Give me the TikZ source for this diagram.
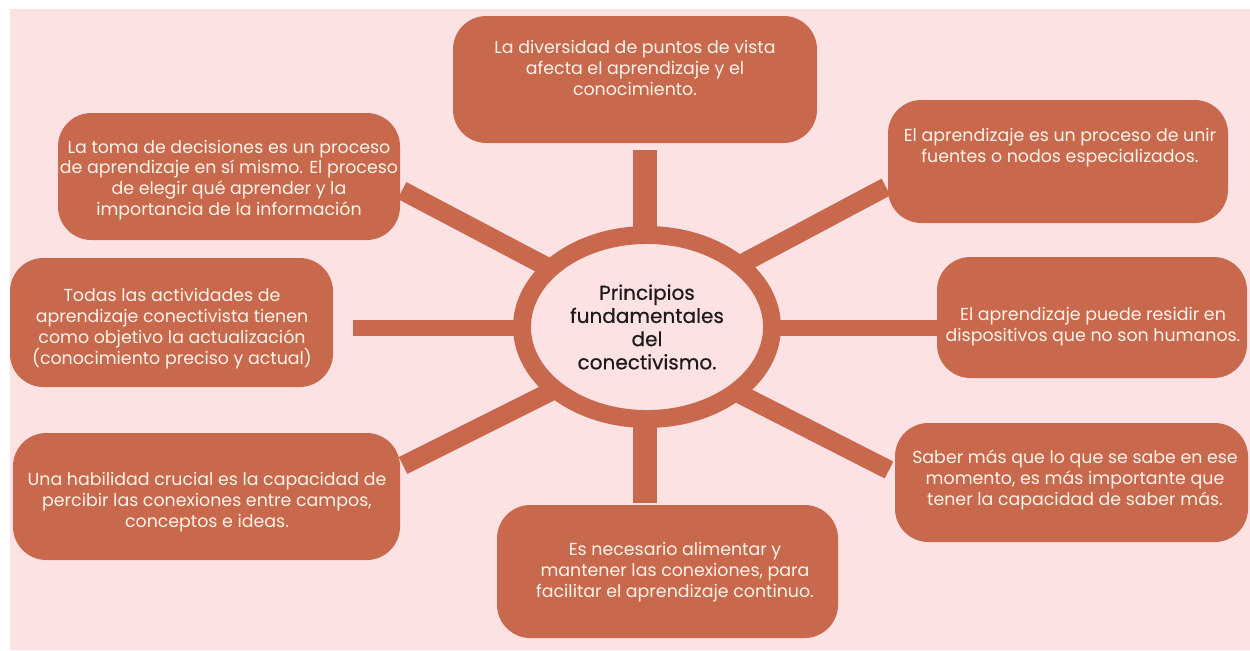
\documentclass[tikz,border=0pt]{standalone}
\usepackage{fontspec}
\setmainfont{Poppins}
\newfontfamily\hubfont{Poppins}[FakeBold=0.5]
\usetikzlibrary{shapes.geometric}
\definecolor{terra}{HTML}{C8694E}
\definecolor{bgpink}{HTML}{FDE2E3}
\definecolor{cream}{HTML}{FFF4EA}
\definecolor{darktxt}{HTML}{1E1A1A}
\begin{document}
\begin{tikzpicture}[x=0.02cm,y=-0.02cm,
  box/.style n args={2}{draw=none, fill=terra, rounded corners=19pt, inner sep=0pt,
     minimum width=#1*0.02cm, minimum height=#2*0.02cm},
  btxt/.style={text=cream, align=center, inner sep=0pt, font=\fontsize{9.9}{11.9}\selectfont},
  spoke/.style={draw=terra, line width=10.8pt, line cap=butt},
  hspoke/.style={draw=terra, line width=9.6pt, line cap=butt},
  vspoke/.style={draw=terra, line width=13.6pt, line cap=butt},
  hub/.style={ellipse, draw=terra, line width=10.2pt, fill=bgpink, inner sep=0pt,
     minimum width=250*0.02cm, minimum height=184*0.02cm, text=darktxt, align=center,
     font=\hubfont\fontsize{11.4}{13.2}\selectfont}
]
\useasboundingbox (0,0) rectangle (1250,650);
\fill[white] (0,0) rectangle (1250,650);
\fill[bgpink] (10,9) rectangle (1250,650);

% spoke end points
\coordinate (ulo) at (402,190.5); \coordinate (uli) at (570,279);
\coordinate (uro) at (886,187);   \coordinate (uri) at (730,270);
\coordinate (llo) at (403,465.5); \coordinate (lli) at (570,382);
\coordinate (lro) at (889,470);   \coordinate (lri) at (730,389);
\coordinate (to) at (645,150);    \coordinate (ti) at (645,260);
\coordinate (bo) at (645,503);    \coordinate (bi) at (645,395);
\coordinate (lo) at (353,328);    \coordinate (li) at (560,328);
\coordinate (ro) at (937,328);    \coordinate (ri) at (740,328);

\draw[spoke] (ulo) -- (uli);
\draw[spoke] (uro) -- (uri);
\draw[spoke] (llo) -- (lli);
\draw[spoke] (lro) -- (lri);
\draw[vspoke] (to) -- (ti);
\draw[vspoke] (bo) -- (bi);
\draw[hspoke] (lo) -- (li);
\draw[hspoke] (ro) -- (ri);

% hub
\node[hub] (c) at (647,327) {Principios\\fundamentales\\del\\conectivismo.};

% boxes
\node[box={364}{127}] (bt) at (635,79.5) {};
\node[box={342}{127}] (btl) at (229,176.5) {};
\node[box={340}{123}] (btr) at (1058,161.5) {};
\node[box={323}{129}] (bl) at (171.5,322.5) {};
\node[box={310}{121}] (br) at (1092,317.5) {};
\node[box={387}{127}] (bbl) at (206.5,496.5) {};
\node[box={341}{133}] (bb) at (667.5,571.5) {};
\node[box={353}{119}] (bbr) at (1071.5,482.5) {};

% texts
\node[btxt] (tt) at (635,68) {La diversidad de puntos de vista\\afecta el aprendizaje y el\\conocimiento.};
\node[btxt] (ttl) at (229,180) {La toma de decisiones es un proceso\\de aprendizaje en sí mismo. El proceso\\de elegir qué aprender y la\\importancia de la información};
\node[btxt] (ttr) at (1060,148) {El aprendizaje es un proceso de unir\\fuentes o nodos especializados.};
\node[btxt] (tl) at (172,328.5) {Todas las actividades de\\aprendizaje conectivista tienen\\como objetivo la actualización\\(conocimiento preciso y actual)};
\node[btxt] (tr) at (1093,327) {El aprendizaje puede residir en\\dispositivos que no son humanos.};
\node[btxt] (tbl) at (207,502.5) {Una habilidad crucial es la capacidad de\\percibir las conexiones entre campos,\\conceptos e ideas.};
\node[btxt] (tb) at (675,572) {Es necesario alimentar y\\mantener las conexiones, para\\facilitar el aprendizaje continuo.};
\node[btxt] (tbr) at (1075,480) {Saber más que lo que se sabe en ese\\momento, es más importante que\\tener la capacidad de saber más.};
\end{tikzpicture}
\end{document}
